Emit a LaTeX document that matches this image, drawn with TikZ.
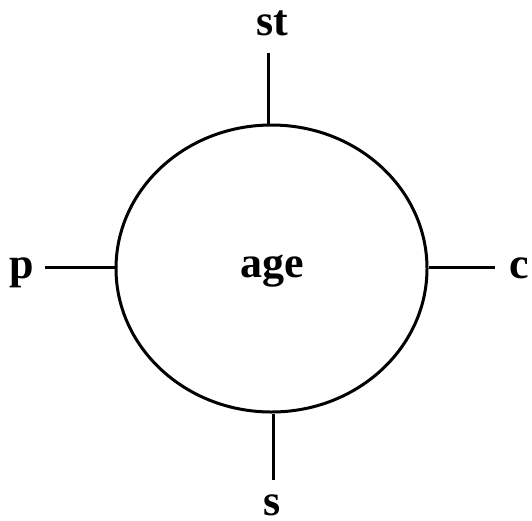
\documentclass[tikz,border=0pt]{standalone}
\usepackage{fontspec}
\setmainfont{Liberation Serif}
\tikzset{
  lbl/.style={font=\fontsize{44}{44}\selectfont\bfseries, inner sep=0pt, anchor=base},
  conn/.style={line width=3pt},
  ent/.style={draw, line width=3pt, ellipse, minimum width=311pt, minimum height=287pt, inner sep=0pt}
}
\usetikzlibrary{shapes.geometric}
\begin{document}
\begin{tikzpicture}[x=1pt,y=-1pt]
\useasboundingbox (0,0) rectangle (532,520);
\node[ent] (e) at (271.5,268.5) {};
\node[lbl] (age) at (272,277) {age};
\node[lbl] (st) at (272,35) {st};
\node[lbl] (s) at (272,515) {s};
\node[lbl] (p) at (22,278) {p};
\node[lbl] (c) at (519,278) {c};
\coordinate (t1) at (268,53);
\coordinate (b1) at (273,480);
\coordinate (l1) at (45,267);
\coordinate (r1) at (495,267);
\draw[conn] (t1) -- (t1 |- e.north);
\draw[conn] (b1) -- (b1 |- e.south);
\draw[conn] (l1) -- (l1 -| e.west);
\draw[conn] (r1) -- (r1 -| e.east);
\end{tikzpicture}
\end{document}
